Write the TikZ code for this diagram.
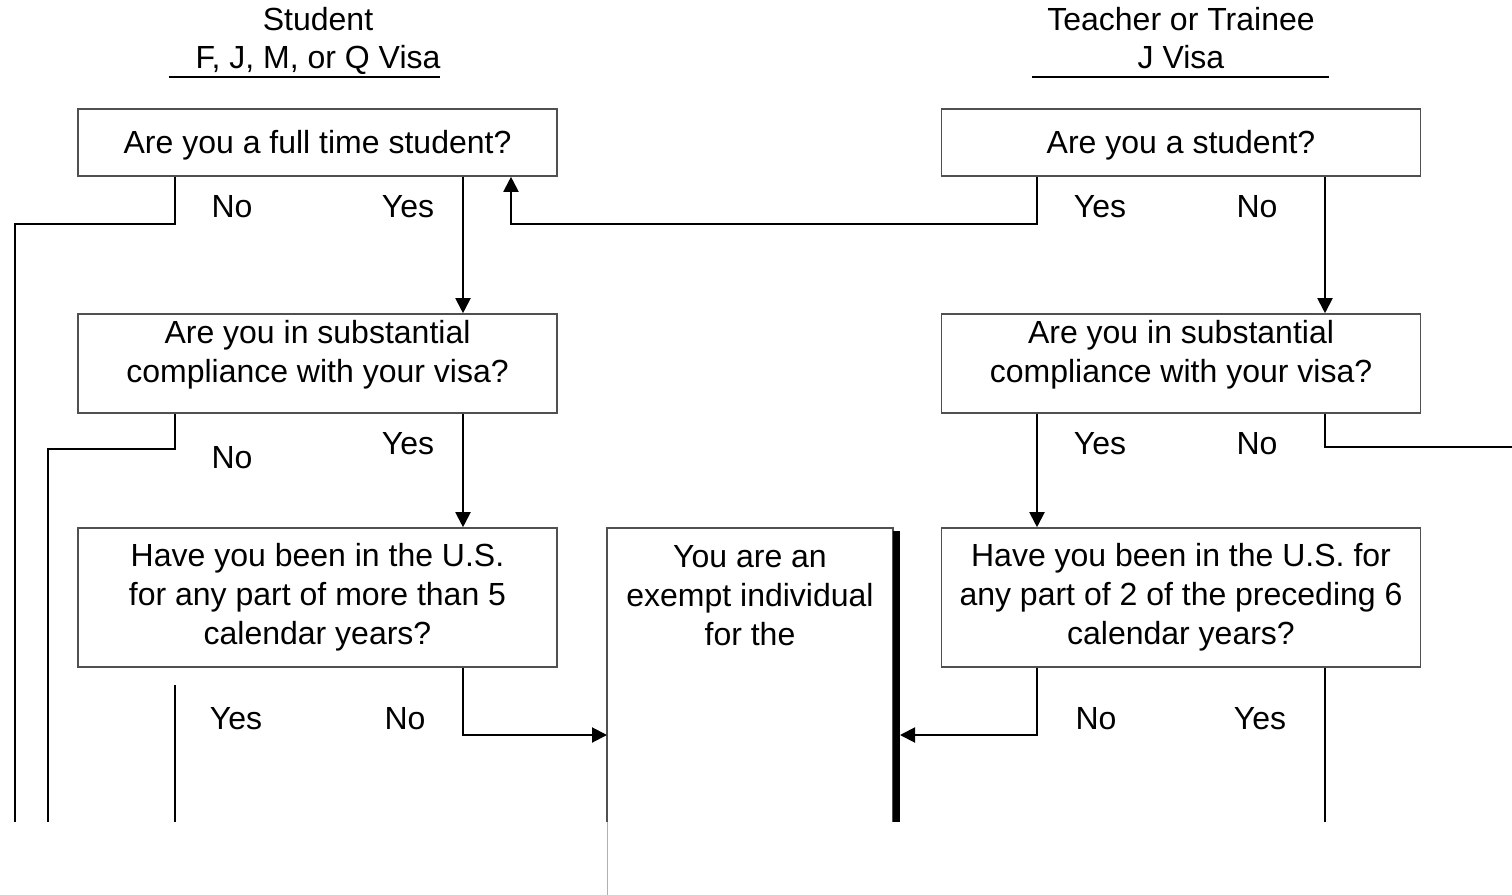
\documentclass[tikz,border=0pt]{standalone}
\usepackage{fontspec}
\setmainfont{Liberation Sans}
\usetikzlibrary{arrows.meta}

\definecolor{boxedge}{HTML}{505050}
\definecolor{cutedge}{HTML}{B0B0B0}

\tikzset{
  qbox/.style={draw=boxedge, line width=0.8pt, minimum width=239.5pt, align=center, inner sep=0pt,
    font=\fontsize{16}{19.5}\selectfont},
  ans/.style={inner sep=0pt, font=\fontsize{16}{19.5}\selectfont},
  conn/.style={line width=1pt},
  arr/.style={conn, -{Triangle[length=7.5pt,width=7.5pt]}},
}

\begin{document}
\begin{tikzpicture}[x=0.5pt,y=-0.5pt]
\useasboundingbox (0,0) rectangle (1512,895);

% Headings
\node[ans, anchor=base] (stuHead) at (318,30) {Student};
\node[ans, anchor=base] (stuVisa) at (318,68) {F, J, M, or Q Visa};
\node[ans, anchor=base] (teaHead) at (1181,30) {Teacher or Trainee};
\node[ans, anchor=base] (teaVisa) at (1181,68) {J Visa};
\draw[conn] (169,77) -- (440,77);
\draw[conn] (1032,77) -- (1329,77);

% Question boxes
\node[qbox, minimum height=33.5pt, text height=14.5pt] (full) at (317.5,142.5) {Are you a full time student?};
\node[qbox, minimum height=33.5pt, text height=14.5pt] (stud) at (1181,142.5) {Are you a student?};
\node[qbox, minimum height=49.5pt, text depth=12pt] (comp) at (317.5,363.5) {Are you in substantial\\compliance with your visa?};
\node[qbox, minimum height=49.5pt, text depth=12pt] (rcomp) at (1181,363.5) {Are you in substantial\\compliance with your visa?};
\node[qbox, minimum height=69.5pt] (years) at (317.5,597.5) {Have you been in the U.S.\\for any part of more than 5\\calendar years?};
\node[qbox, minimum height=69.5pt] (ryears) at (1181,597.5) {Have you been in the U.S. for\\any part of 2 of the preceding 6\\calendar years?};

% Exempt box (cut off below)
\draw[draw=boxedge, line width=0.6pt] (607,822) -- (607,528) -- (893,528) -- (893,822);
\draw[draw=cutedge, line width=0.5pt] (607,822) -- (607,895);
\draw[line width=3.5pt] (896,531) -- (896,822);
\node[ans, align=center] (exempt) at (750,596) {You are an\\exempt individual\\for the};

% Branch columns and free ends
\coordinate (lNo) at (175,0);
\coordinate (lYes) at (463,0);
\coordinate (back) at (511,0);
\coordinate (rYes) at (1037,0);
\coordinate (rNo) at (1325,0);
\coordinate (exIn) at (607,735);
\coordinate (barIn) at (900,735);
\coordinate (outA) at (15,822);
\coordinate (outB) at (48,822);
\coordinate (outC) at (1512,447);
\coordinate (yesTop) at (175,685);
\coordinate (outD) at (175,822);
\coordinate (outE) at (1325,822);

% Answers
\node[ans] (a1) at (232,207) {No};
\node[ans] (a2) at (408,207) {Yes};
\node[ans] (a3) at (1100,207) {Yes};
\node[ans] (a4) at (1257,207) {No};
\node[ans] (a5) at (232,458) {No};
\node[ans] (a6) at (408,444) {Yes};
\node[ans] (a7) at (1100,444) {Yes};
\node[ans] (a8) at (1257,444) {No};
\node[ans] (a9) at (236,719) {Yes};
\node[ans] (a10) at (405,719) {No};
\node[ans] (a11) at (1096,719) {No};
\node[ans] (a12) at (1260,719) {Yes};

% Connectors
\draw[conn] (full.south -| lNo) -- ++(0,47) -| (outA);
\draw[arr] (full.south -| lYes) -- (comp.north -| lYes);
\draw[arr] (stud.south -| rYes) -- ++(0,47) -| (full.south -| back);
\draw[arr] (stud.south -| rNo) -- (rcomp.north -| rNo);
\draw[conn] (comp.south -| lNo) -- ++(0,35) -| (outB);
\draw[arr] (comp.south -| lYes) -- (years.north -| lYes);
\draw[arr] (rcomp.south -| rYes) -- (ryears.north -| rYes);
\draw[conn] (rcomp.south -| rNo) |- (outC);
\draw[conn] (yesTop) -- (outD);
\draw[arr] (years.south -| lYes) |- (exIn);
\draw[arr] (ryears.south -| rYes) |- (barIn);
\draw[conn] (ryears.south -| rNo) -- (outE);

\end{tikzpicture}
\end{document}
